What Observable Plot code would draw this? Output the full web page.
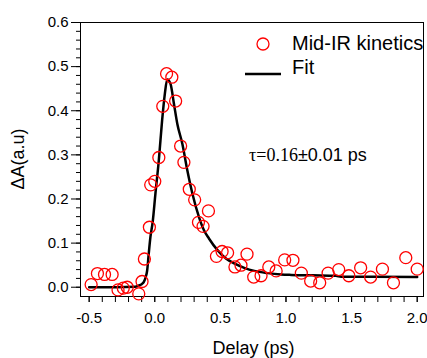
<!DOCTYPE html>
<html>
<head>
<meta charset="utf-8">
<script src="https://cdn.jsdelivr.net/npm/d3@7"></script>
<script src="https://cdn.jsdelivr.net/npm/@observablehq/plot@0.6"></script>
<style>
  html, body { margin: 0; padding: 0; background: #fff; }
  #wrap { position: relative; width: 427px; height: 358px; font-family: "Liberation Sans", Arial, sans-serif; color: #000; }
  .ov { position: absolute; white-space: nowrap; line-height: 1; }
</style>
</head>
<body>
<div id="wrap"></div>
<script>
// Measured data (delay in ps, ΔA in a.u.)
const delay = [-0.485,-0.437,-0.383,-0.325,-0.28,-0.24,-0.21,-0.122,-0.097,-0.079,-0.041,-0.031,0.0,0.031,0.061,0.09,0.13,0.159,0.197,0.222,0.263,0.304,0.333,0.368,0.409,0.47,0.513,0.555,0.611,0.657,0.703,0.754,0.81,0.869,0.925,0.99,1.053,1.117,1.188,1.257,1.321,1.402,1.479,1.569,1.645,1.735,1.819,1.913,2.0];
const signal = [0.006,0.031,0.029,0.029,-0.006,-0.002,0.000,-0.015,0.013,0.064,0.136,0.232,0.240,0.294,0.41,0.484,0.476,0.422,0.32,0.283,0.222,0.198,0.147,0.138,0.173,0.070,0.081,0.078,0.046,0.050,0.075,0.023,0.026,0.046,0.037,0.062,0.061,0.032,0.014,0.010,0.032,0.040,0.026,0.044,0.023,0.041,0.010,0.067,0.041];

// Fit curve
const fitDelay = [-0.5,-0.3,-0.15,-0.12,-0.1,-0.083,-0.07,-0.058,-0.046,-0.033,-0.015,0.005,0.031,0.056,0.077,0.095,0.12,0.146,0.172,0.21,0.248,0.287,0.337,0.375,0.414,0.478,0.542,0.605,0.682,0.759,0.861,0.963,1.04,1.2,1.38,1.42,1.6,2.0];
const fitSignal = [0.0,0.0,0.001,0.004,0.007,0.012,0.022,0.038,0.076,0.114,0.15,0.212,0.288,0.378,0.439,0.471,0.461,0.416,0.37,0.325,0.265,0.212,0.159,0.129,0.110,0.084,0.065,0.054,0.044,0.037,0.032,0.029,0.028,0.027,0.026,0.024,0.024,0.023];

const xMajor = [-0.5, 0.0, 0.5, 1.0, 1.5, 2.0];
const xMinor = d3.range(-5, 21).map(i => i / 10);
const yMajor = [0.0, 0.1, 0.2, 0.3, 0.4, 0.5, 0.6];
const yMinor = d3.range(0, 31).map(i => i / 50);

const seriesLabel = "Mid-IR kinetics";
const fitLabel = "Fit";
const xLabel = "Delay (ps)";
const yLabel = "ΔA(a.u)";

const points = delay.map((d, i) => ({x: d, y: signal[i]}));
const fit = fitDelay.map((d, i) => ({x: d, y: fitSignal[i]}));
const fmt = d => d.toFixed(1);

const chart = Plot.plot({
  width: 427,
  height: 358,
  marginLeft: 80,
  marginRight: 4,
  marginTop: 22,
  marginBottom: 62,
  style: {fontFamily: "'Liberation Sans', Arial, sans-serif", fontSize: "15px", color: "#000", background: "#fff"},
  x: {domain: [-0.566, 2.048]},
  y: {domain: [-0.021, 0.6]},
  marks: [
    Plot.axisY(yMinor, {tickSize: 4, text: null, label: null, strokeWidth: 1}),
    Plot.axisY(yMajor, {tickSize: 9, tickPadding: 3, tickFormat: fmt, label: null, fontSize: 15, strokeWidth: 1}),
    Plot.axisX(xMinor, {tickSize: 6, text: null, label: null, strokeWidth: 1}),
    Plot.axisX(xMajor, {tickSize: 6, tickPadding: 10, tickFormat: fmt, label: null, fontSize: 15, strokeWidth: 1}),
    Plot.frame({stroke: "#000", strokeWidth: 1}),
    Plot.line(fit, {x: "x", y: "y", stroke: "#000", strokeWidth: 2.5, curve: "monotone-x"}),
    Plot.dot(points, {x: "x", y: "y", r: 6, stroke: "#ff0000", strokeWidth: 1.3, fill: "none"})
  ]
});

const wrap = document.getElementById("wrap");
wrap.appendChild(chart);

function ov(html, style) {
  const d = document.createElement("div");
  d.className = "ov";
  d.innerHTML = html;
  Object.assign(d.style, style);
  wrap.appendChild(d);
  return d;
}
// Axis titles
ov(xLabel, {left: "0px", width: "100%", textAlign: "center", paddingLeft: "80px", boxSizing: "border-box", top: "339px", fontSize: "18px"});
ov(yLabel, {left: "18px", top: "159px", fontSize: "18px", transform: "translate(-50%, -50%) rotate(-90deg)"});
// Legend
ov('<svg width="40" height="16" style="vertical-align:middle"><circle cx="18" cy="8" r="6" fill="none" stroke="#ff0000" stroke-width="1.3"/></svg>', {left: "245px", top: "35px"});
ov(seriesLabel, {left: "292px", top: "33px", fontSize: "20px"});
ov('<svg width="40" height="6"><line x1="0" x2="36" y1="3" y2="3" stroke="#000" stroke-width="2.5"/></svg>', {left: "245px", top: "64px"});
ov(fitLabel, {left: "292px", top: "57px", fontSize: "20px"});
// Annotation
ov('<span style="font-family:\'Liberation Serif\',\'Times New Roman\',serif">τ=0.16</span><span>±0.01 ps</span>', {left: "249px", top: "146px", fontSize: "18px"});
</script>
</body>
</html>
